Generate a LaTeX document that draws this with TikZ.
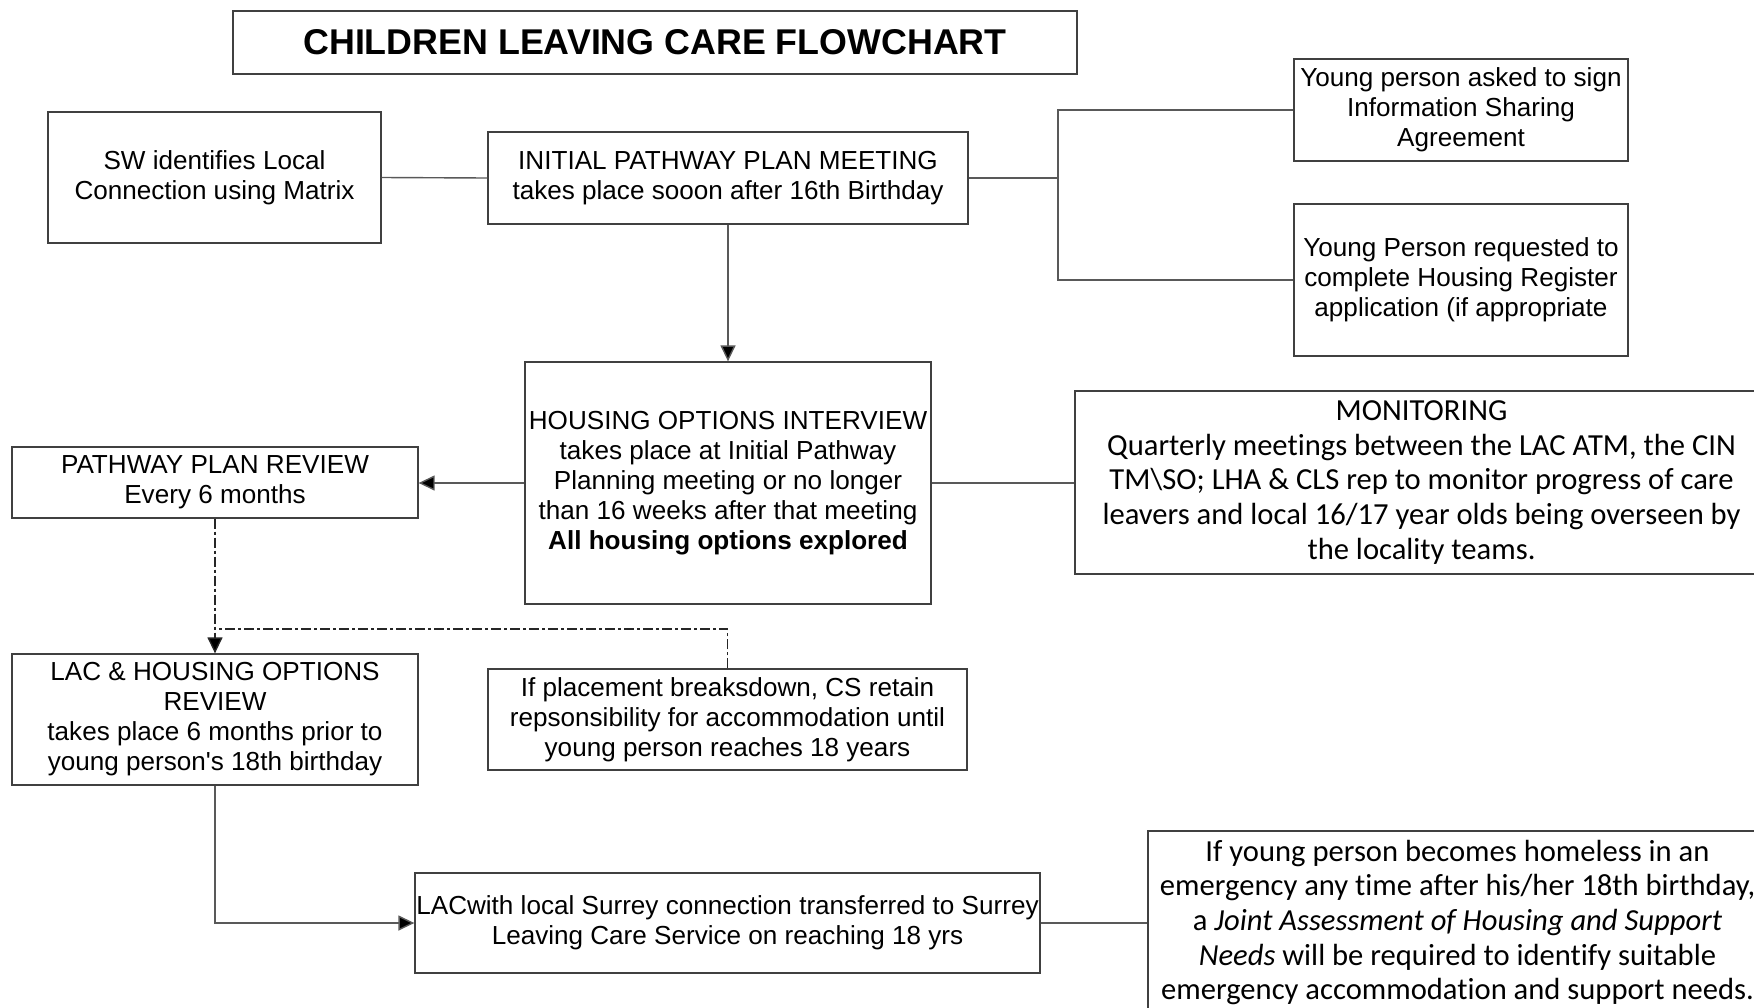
\documentclass[tikz,border=0pt]{standalone}
\usepackage{fontspec}
\setmainfont{Liberation Sans}
\newfontfamily\calfont[Ligatures={NoCommon}]{Carlito}
\usetikzlibrary{arrows.meta}
\begin{document}
\begin{tikzpicture}[x=1pt,y=-1pt,
  box/.style={draw=black!75,line width=1.3pt,rectangle,inner sep=0pt,align=center,
    font=\fontsize{26.1}{30}\selectfont},
  calbox/.style={box,font=\calfont\fontsize{30.6}{34.7}\selectfont},
  conn/.style={draw=black!65,line width=1.4pt},
  arr/.style={conn,-{Triangle[length=16pt,width=15pt,fill=black]}},
  dd/.style={conn,draw=black!85,dash pattern=on 10pt off 3pt on 3pt off 3pt}]
\useasboundingbox (0,0) rectangle (1754,1007);
\fill[white] (0,0) rectangle (1754,1007);

\node[box,minimum width=844,minimum height=63,font=\fontsize{35.8}{40}\selectfont\bfseries] (title) at (655,42.5) {CHILDREN LEAVING CARE FLOWCHART};

\node[box,minimum width=333,minimum height=131] (sw) at (214.5,177.5) {SW identifies Local\\Connection using Matrix};
\node[box,minimum width=480,minimum height=92] (ipp) at (728,178) {INITIAL PATHWAY PLAN MEETING\\takes place sooon after 16th Birthday};
\node[box,minimum width=334,minimum height=102] (isa) at (1461,110) {Young person asked to sign\\Information Sharing\\Agreement};
\node[box,minimum width=334,minimum height=152] (hreg) at (1461,280) {Young Person requested to\\complete Housing Register\\application (if appropriate};

\node[box,minimum width=406,minimum height=242] (hoi) at (728,483) {HOUSING OPTIONS INTERVIEW\\takes place at Initial Pathway\\Planning meeting or no longer\\than 16 weeks after that meeting\\\textbf{All housing options explored}};
\node[box,minimum width=406,minimum height=71] (ppr) at (215,482.5) {PATHWAY PLAN REVIEW\\Every 6 months};
\node[calbox,minimum width=693,minimum height=183] (mon) at (1421.5,482.5) {MONITORING\\Quarterly meetings between the LAC ATM, the CIN\\TM\textbackslash SO; LHA \& CLS rep to monitor progress of care\\leavers and local 16/17 year olds being overseen by\\the locality teams.};

\node[box,minimum width=406,minimum height=131] (lac) at (215,719.5) {LAC \& HOUSING OPTIONS\\REVIEW\\takes place 6 months prior to\\young person\textquotesingle s 18th birthday};
\node[box,minimum width=479,minimum height=101] (plc) at (727.5,719.5) {If placement breaksdown, CS retain\\repsonsibility for accommodation until\\young person reaches 18 years};
\node[box,minimum width=625,minimum height=100] (sur) at (727.5,923) {LACwith local Surrey connection transferred to Surrey\\Leaving Care Service on reaching 18 yrs};
\node[calbox,minimum width=619,minimum height=183] (hom) at (1457.5,922.5) {If young person becomes homeless in an\\emergency any time after his/her 18th birthday,\\a \textit{Joint Assessment of Housing and Support}\\\textit{Needs} will be required to identify suitable\\emergency accommodation and support needs.};

\coordinate (br) at (1058,178);
\coordinate (jn) at (215,629);

\draw[conn] (sw.east) -- (ipp.west);
\draw[conn] (ipp.east) -- (br);
\draw[conn] (isa.west) -| (br) |- (hreg.west);
\draw[arr] (ipp.south) -- (hoi.north);
\draw[arr] (hoi.west) -- (ppr.east |- hoi.west);
\draw[conn] (hoi.east) -- (mon.west |- hoi.east);
\draw[dd,-{Triangle[length=16pt,width=15pt,fill=black]}] (ppr.south) -- (lac.north);
\draw[dd] (plc.north) |- (jn);
\draw[arr] (lac.south) |- (sur.west);
\draw[conn] (sur.east) -- (hom.west |- sur.east);
\end{tikzpicture}
\end{document}
